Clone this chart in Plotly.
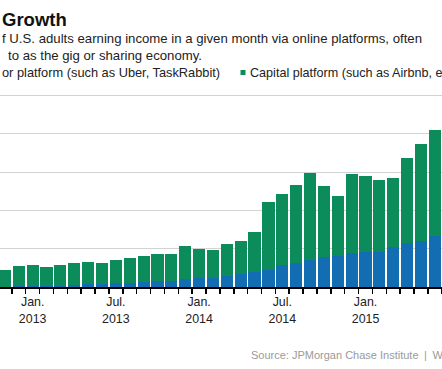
import plotly.graph_objects as go

# ---- data (percent of U.S. adults) ----
months = ["2012-10", "2012-11", "2012-12",
          "2013-01", "2013-02", "2013-03", "2013-04", "2013-05", "2013-06",
          "2013-07", "2013-08", "2013-09", "2013-10", "2013-11", "2013-12",
          "2014-01", "2014-02", "2014-03", "2014-04", "2014-05", "2014-06",
          "2014-07", "2014-08", "2014-09", "2014-10", "2014-11", "2014-12",
          "2015-01", "2015-02", "2015-03", "2015-04", "2015-05", "2015-06",
          "2015-07"]

tick_labels = {"2012-10": "Oct.<br>2012", "2013-01": "Jan.<br>2013", "2013-07": "Jul.<br>2013",
               "2014-01": "Jan.<br>2014", "2014-07": "Jul.<br>2014", "2015-01": "Jan.<br>2015",
               "2015-07": "Jul.<br>2015"}

labor = [None, 0.002, 0.003,
         0.003, 0.004, 0.007, 0.010, 0.014, 0.016,
         0.020, 0.022, 0.027, 0.029, 0.033, 0.040,
         0.045, 0.046, 0.059, 0.066, 0.078, 0.087,
         0.114, 0.125, 0.139, 0.158, 0.164, 0.178,
         0.183, 0.183, 0.209, 0.231, 0.243, 0.269,
         None]

capital = [None, 0.087, 0.107,
           0.112, 0.102, 0.106, 0.114, 0.116, 0.111,
           0.122, 0.130, 0.133, 0.144, 0.137, 0.176,
           0.152, 0.150, 0.166, 0.177, 0.211, 0.355,
           0.372, 0.406, 0.458, 0.371, 0.313, 0.410,
           0.398, 0.377, 0.362, 0.441, 0.505, 0.551,
           None]

grid_vals = [0.2, 0.4, 0.6, 0.8, 1.0]

GREEN = "#0c8c5a"
BLUE = "#136db3"
W, H = 442, 369
M_T, M_B = 88, 82
PLOT_BOTTOM = H - M_B
PLOT_H = H - M_T - M_B


def py(p):
    return (PLOT_BOTTOM - p) / PLOT_H


def px(p):
    return p / W


fig = go.Figure()
fig.add_trace(go.Bar(x=months, y=labor, marker=dict(color=BLUE, line=dict(width=0)),
                     name="Labor platform"))
fig.add_trace(go.Bar(x=months, y=capital, marker=dict(color=GREEN, line=dict(width=0)),
                     name="Capital platform"))

font = "Arial, 'Liberation Sans', sans-serif"
anns = [
    dict(text="<b>Growth</b>", x=px(0), y=py(19.5), size=18.5, color="#111111"),
    dict(text="f U.S. adults earning income in a given month via online platforms, often",
         x=px(0), y=py(39), size=13.2, color="#222222"),
    dict(text="to as the gig or sharing economy.", x=px(6), y=py(55), size=13.2, color="#222222"),
    dict(text="or platform (such as Uber, TaskRabbit)", x=px(0), y=py(72.5), size=12.8, color="#222222"),
    dict(text="Capital platform (such as Airbnb, e", x=px(247.5), y=py(72.5), size=12.6, color="#222222"),
    dict(text="Source: JPMorgan Chase Institute\u2002|\u2002W", x=px(249), y=py(355),
         size=11, color="#9a9a9a"),
]
for a in anns:
    fig.add_annotation(text=a["text"], x=a["x"], y=a["y"], xref="paper", yref="paper",
                       xanchor="left", yanchor="middle", showarrow=False,
                       font=dict(family=font, size=a["size"], color=a["color"]))

fig.add_shape(type="rect", xref="paper", yref="paper",
              x0=px(240.5), x1=px(245.5), y0=py(75), y1=py(70),
              fillcolor=GREEN, line=dict(width=0))

fig.update_layout(
    width=W, height=H,
    margin=dict(l=0, r=0, t=M_T, b=M_B, autoexpand=False),
    barmode="stack", bargap=0.12,
    showlegend=False,
    hovermode=False,
    plot_bgcolor="white", paper_bgcolor="white",
    font=dict(family=font),
    xaxis=dict(type="category", categoryorder="array", categoryarray=months,
               range=[0.6467, 32.514],
               tickmode="array", tickvals=months,
               ticktext=[tick_labels.get(m, "") for m in months],
               tickangle=0, ticklabelstandoff=3,
               tickson="boundaries", ticks="outside", ticklen=5, tickwidth=1.5,
               tickcolor="black", showline=True, linecolor="black", linewidth=1.5,
               showgrid=False, tickfont=dict(size=12.4, color="#222222", family=font)),
    yaxis=dict(range=[0, 1.04], tickmode="array", tickvals=grid_vals,
               showticklabels=False, showgrid=True, gridcolor="#d2d2d2", gridwidth=1,
               zeroline=False, showline=False, ticks=""),
)

fig.write_html("out.html", config={"displayModeBar": False, "staticPlot": True},
               post_script="document.body.style.margin='0';document.body.style.padding='0';")
